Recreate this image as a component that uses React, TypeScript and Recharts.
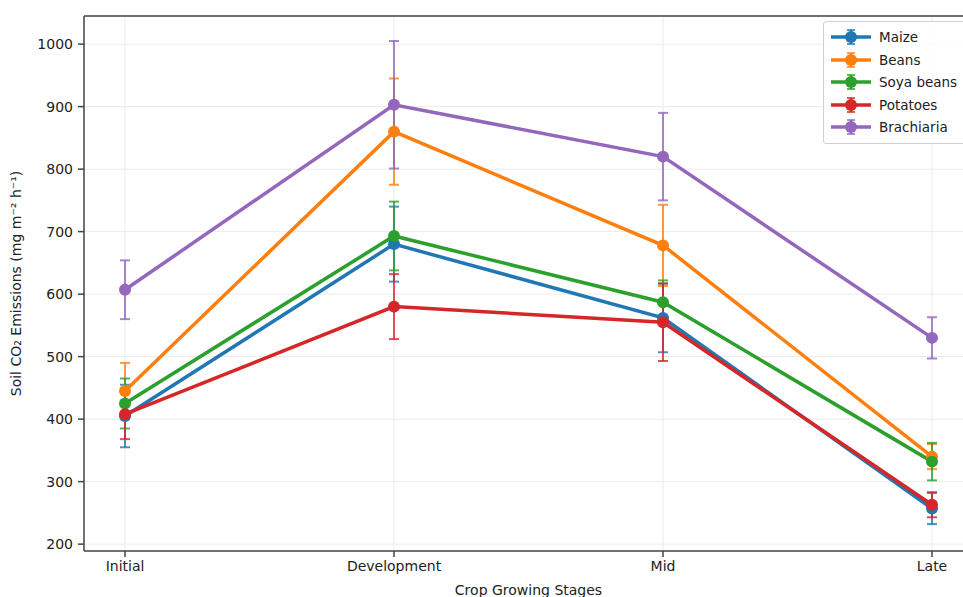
import React from 'react';
import {
  LineChart, Line, XAxis, YAxis, CartesianGrid, ErrorBar, ReferenceLine
} from 'recharts';

const stages = ['Initial', 'Development', 'Mid', 'Late'];

const maize = [405, 680, 562, 257];
const beans = [445, 860, 678, 340];
const soya = [425, 693, 587, 332];
const potatoes = [408, 580, 555, 263];
const brachiaria = [607, 903, 820, 530];

const maizeErr = [50, 60, 55, 25];
const beansErr = [45, 85, 65, 20];
const soyaErr = [40, 55, 35, 30];
const potatoesErr = [40, 52, 62, 20];
const brachiariaErr = [47, 102, 70, 33];

const yTicks = [200, 300, 400, 500, 600, 700, 800, 900, 1000];
const Y_MIN = 189;
const Y_MAX = 1045;

const series = [
  { key: 'maize', name: 'Maize', color: '#1f77b4', values: maize, err: maizeErr },
  { key: 'beans', name: 'Beans', color: '#ff7f0e', values: beans, err: beansErr },
  { key: 'soya', name: 'Soya beans', color: '#2ca02c', values: soya, err: soyaErr },
  { key: 'potatoes', name: 'Potatoes', color: '#d62728', values: potatoes, err: potatoesErr },
  { key: 'brachiaria', name: 'Brachiaria', color: '#9467bd', values: brachiaria, err: brachiariaErr },
];

const data = stages.map((stage, i) => {
  const row: Record<string, string | number> = { stage };
  series.forEach(s => {
    row[s.key] = s.values[i];
    row[s.key + 'Err'] = s.err[i];
  });
  return row;
});

const FONT = 'DejaVu Sans, sans-serif';

// legend drawn outside the chart so it takes no room from the plot;
// it runs past the right edge like the cropped original
const LegendBox = () => (
  <div style={{
    position: 'absolute', left: 823, top: 21, width: 150,
    border: '1px solid #d0d0d0', borderRadius: 3, background: 'rgba(255,255,255,0.85)',
    padding: '4px 6px', fontFamily: FONT, fontSize: 13.5, color: '#222', whiteSpace: 'nowrap',
  }}>
    {series.map(s => (
      <div key={s.key} style={{ display: 'flex', alignItems: 'center', height: 22.5 }}>
        <svg width={42} height={16} style={{ marginRight: 7 }}>
          <line x1={1} y1={8} x2={41} y2={8} stroke={s.color} strokeWidth={3.5} />
          <line x1={21} y1={1} x2={21} y2={15} stroke={s.color} strokeWidth={2} />
          <line x1={17} y1={1} x2={25} y2={1} stroke={s.color} strokeWidth={1.5} />
          <line x1={17} y1={15} x2={25} y2={15} stroke={s.color} strokeWidth={1.5} />
          <circle cx={21} cy={8} r={6} fill={s.color} />
        </svg>
        <span>{s.name}</span>
      </div>
    ))}
  </div>
);

export default function App() {
  return (
    <div style={{ position: 'absolute', left: 0, top: 0, width: 963, height: 597, overflow: 'hidden', background: '#fff' }}>
      <LineChart
        width={1000}
        height={597}
        data={data}
        margin={{ top: 16, right: 27, bottom: 0, left: 0 }}
      >
        <CartesianGrid stroke="#ebebeb" strokeWidth={1} />
        <XAxis
          dataKey="stage"
          height={46}
          padding={{ left: 41, right: 41 }}
          stroke="#444"
          strokeWidth={1.5}
          tickSize={6}
          tickMargin={4}
          tick={{ fill: '#222', fontSize: 14, fontFamily: FONT }}
          label={{ value: 'Crop Growing Stages', position: 'insideBottom', offset: 2, fill: '#222', fontSize: 14, fontFamily: FONT }}
        />
        <YAxis
          width={84}
          domain={[Y_MIN, Y_MAX]}
          ticks={yTicks}
          allowDataOverflow
          stroke="#444"
          strokeWidth={1.5}
          tickSize={6}
          tickMargin={5}
          tick={{ fill: '#222', fontSize: 14, fontFamily: FONT }}
          label={{ value: 'Soil CO₂ Emissions (mg m⁻² h⁻¹)', angle: -90, position: 'insideLeft', offset: 16, style: { textAnchor: 'middle' }, fill: '#222', fontSize: 14, fontFamily: FONT }}
        />
        <ReferenceLine y={Y_MAX} stroke="#444" strokeWidth={1.5} />
        {series.map(s => (
          <Line
            key={s.key}
            type="linear"
            dataKey={s.key}
            name={s.name}
            stroke={s.color}
            strokeWidth={3.5}
            dot={{ r: 6, fill: s.color, stroke: s.color, strokeWidth: 0 }}
            activeDot={false}
            isAnimationActive={false}
          >
            <ErrorBar dataKey={s.key + 'Err'} direction="y" width={5} strokeWidth={2} stroke={s.color} strokeOpacity={0.8} />
          </Line>
        ))}
      </LineChart>
      <LegendBox />
    </div>
  );
}
